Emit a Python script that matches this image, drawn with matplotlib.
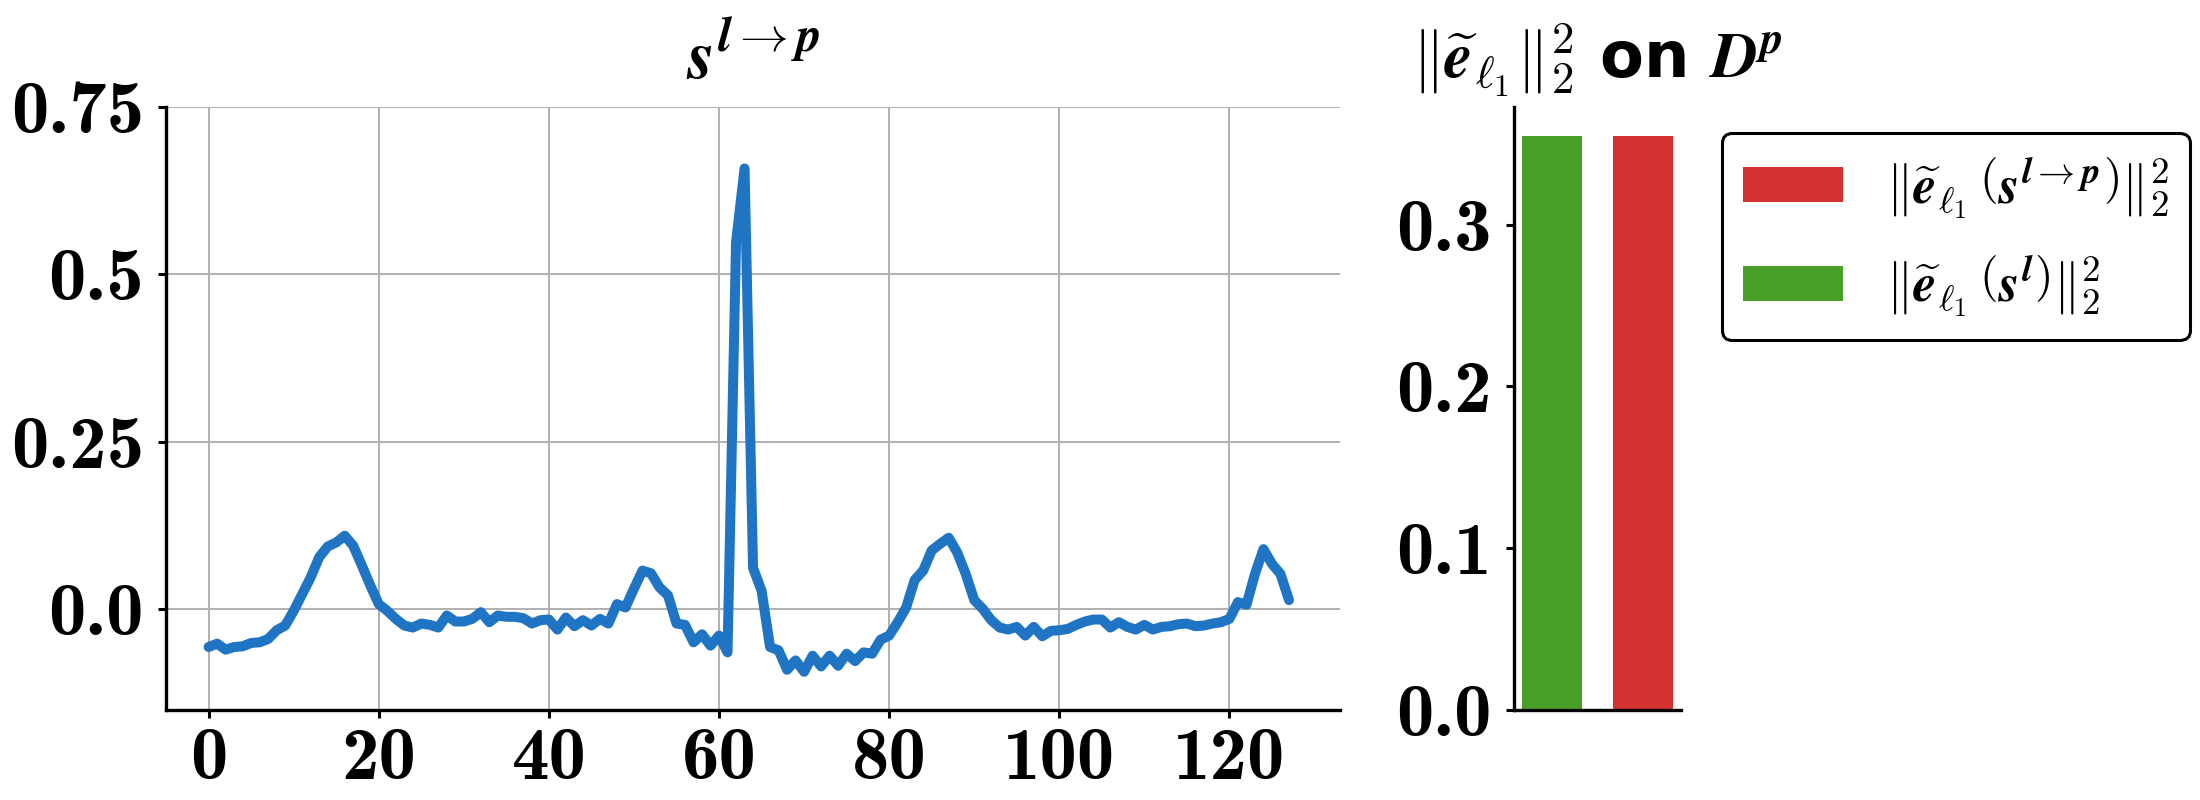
import matplotlib
matplotlib.use("Agg")
import matplotlib.pyplot as plt
from matplotlib.ticker import FixedLocator, FixedFormatter

plt.rcParams['mathtext.fontset'] = 'cm'
plt.rcParams['font.family'] = ['DejaVu Sans']

# 左图：信号 s^{l->p}（128 个采样点）
signal = [
    -0.056, -0.051, -0.060, -0.056, -0.055, -0.050, -0.049, -0.044, -0.031, -0.024,
    -0.002, 0.023, 0.048, 0.078, 0.094, 0.100, 0.110, 0.095, 0.066, 0.036,
    0.008, -0.002, -0.014, -0.024, -0.027, -0.021, -0.023, -0.027, -0.009, -0.018,
    -0.018, -0.014, -0.004, -0.019, -0.009, -0.011, -0.011, -0.013, -0.021, -0.016,
    -0.015, -0.030, -0.012, -0.025, -0.016, -0.024, -0.014, -0.021, 0.008, 0.003,
    0.031, 0.058, 0.054, 0.033, 0.021, -0.021, -0.023, -0.049, -0.037, -0.054,
    -0.039, -0.064, 0.548, 0.658, 0.062, 0.028, -0.056, -0.061, -0.090, -0.076,
    -0.093, -0.069, -0.085, -0.069, -0.084, -0.066, -0.077, -0.064, -0.066, -0.045,
    -0.039, -0.019, 0.003, 0.044, 0.058, 0.088, 0.098, 0.107, 0.085, 0.053,
    0.014, 0.001, -0.016, -0.027, -0.030, -0.026, -0.039, -0.026, -0.040, -0.032,
    -0.031, -0.029, -0.023, -0.018, -0.015, -0.015, -0.027, -0.019, -0.026, -0.030,
    -0.023, -0.030, -0.026, -0.025, -0.022, -0.021, -0.025, -0.024, -0.021, -0.019,
    -0.014, 0.011, 0.007, 0.053, 0.090, 0.068, 0.053, 0.014,
]
left_xticks = [0, 20, 40, 60, 80, 100, 120]
left_xticklabels = ['0', '20', '40', '60', '80', '100', '120']
left_yticks = [0.0, 0.25, 0.5, 0.75]
left_yticklabels = ['0.0', '0.25', '0.5', '0.75']

# 右图：两个误差柱
bar_labels = [r'$\|\widetilde{\boldsymbol{e}}_{\boldsymbol{\ell}_1}\,\left(\boldsymbol{s}^{\boldsymbol{l}}\right)\|_2^2$',
              r'$\|\widetilde{\boldsymbol{e}}_{\boldsymbol{\ell}_1}\,\left(\boldsymbol{s}^{\boldsymbol{l}\to \boldsymbol{p}}\right)\|_2^2$']
bar_values = [0.355, 0.355]
bar_colors = ['#49a027', '#d43131']
right_yticks = [0.0, 0.1, 0.2, 0.3]
right_yticklabels = ['0.0', '0.1', '0.2', '0.3']

fig = plt.figure(figsize=(11, 4), dpi=200)

# ---------------- 左图 ----------------
ax1 = fig.add_axes([0.0755, 0.1125, 0.5336, 0.754])
ax1.plot(range(len(signal)), signal, color='#1f75c4', linewidth=3.6, solid_capstyle='round')
ax1.set_xlim(-5, 133)
ax1.set_ylim(-0.15, 0.75)
ax1.xaxis.set_major_locator(FixedLocator(left_xticks))
ax1.xaxis.set_major_formatter(FixedFormatter(left_xticklabels))
ax1.yaxis.set_major_locator(FixedLocator(left_yticks))
ax1.yaxis.set_major_formatter(FixedFormatter(left_yticklabels))
ax1.grid(True, color='#b0b0b0', linewidth=0.7)
ax1.set_axisbelow(True)
ax1.set_title(r'$\boldsymbol{s}^{\boldsymbol{l}\to\boldsymbol{p}}$', fontsize=25, pad=10)

# ---------------- 右图 ----------------
ax2 = fig.add_axes([0.6882, 0.1125, 0.0759, 0.754])
bars = ax2.bar(range(len(bar_values)), bar_values, width=0.66, color=bar_colors)
ax2.set_xticks([])
ax2.yaxis.set_major_locator(FixedLocator(right_yticks))
ax2.yaxis.set_major_formatter(FixedFormatter(right_yticklabels))
ax2.set_title(r'$\|\widetilde{\boldsymbol{e}}_{\boldsymbol{\ell}_1}\|_2^2$ on $\boldsymbol{D}^{\boldsymbol{p}}$',
              fontsize=23, fontweight='bold', pad=10)

for ax in (ax1, ax2):
    for side in ('top', 'right'):
        ax.spines[side].set_visible(False)
    for side in ('left', 'bottom'):
        ax.spines[side].set_linewidth(1.2)
    ax.tick_params(axis='both', labelsize=27, length=3, width=1.1)
    ax.tick_params(axis='y', pad=5)
    ax.tick_params(axis='x', pad=3)
    for lab in ax.get_xticklabels() + ax.get_yticklabels():
        lab.set_fontfamily('cmb10')

leg = fig.legend([bars[1], bars[0]], [bar_labels[1], bar_labels[0]],
                 loc='upper left', bbox_to_anchor=(0.7827, 0.834),
                 bbox_transform=fig.transFigure, borderaxespad=0,
                 fontsize=19, frameon=True, fancybox=True, framealpha=1,
                 handlelength=1.9, handleheight=0.65, labelspacing=0.6)
leg.get_frame().set_edgecolor('black')
leg.get_frame().set_linewidth(1.1)

fig.savefig('out.png', dpi=200)
